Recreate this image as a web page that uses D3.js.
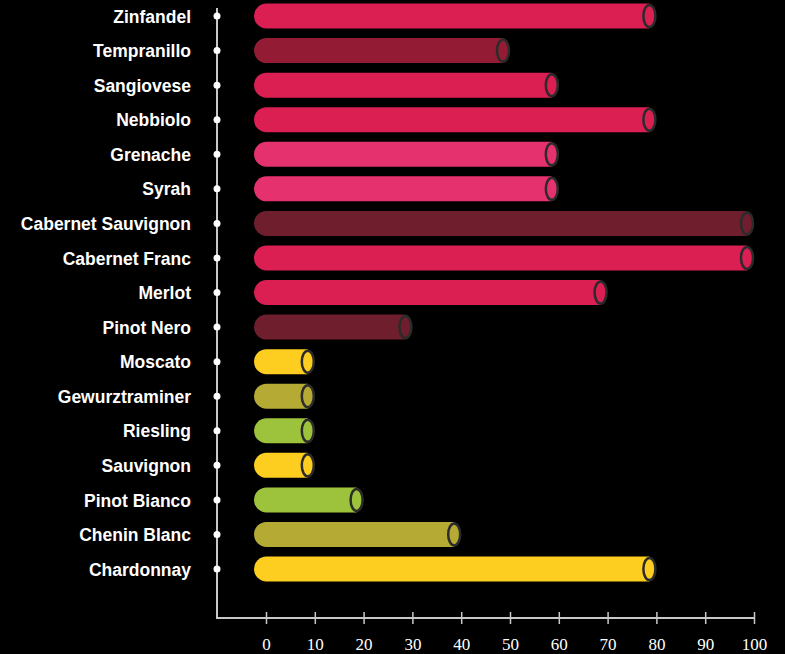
<!DOCTYPE html>
<html>
<head>
<meta charset="utf-8">
<script src="https://cdn.jsdelivr.net/npm/d3@7.9.0/dist/d3.min.js"></script>
<style>
  html, body { margin: 0; padding: 0; background: #000; }
  svg { display: block; }
  .y-axis text { font-family: "Liberation Sans", Arial, sans-serif; font-weight: bold; font-size: 17.5px; fill: #fff; }
  .x-axis text { font-family: "Liberation Serif", "DejaVu Serif", serif; font-size: 17px; fill: #fff; }
</style>
</head>
<body>
<div id="chart"></div>
<script>
// Data
const grapes = ['Zinfandel', 'Tempranillo', 'Sangiovese', 'Nebbiolo', 'Grenache', 'Syrah',
  'Cabernet Sauvignon', 'Cabernet Franc', 'Merlot', 'Pinot Nero', 'Moscato', 'Gewurztraminer',
  'Riesling', 'Sauvignon', 'Pinot Bianco', 'Chenin Blanc', 'Chardonnay'];
const values = [80, 50, 60, 80, 60, 60, 100, 100, 70, 30, 10, 10, 10, 10, 20, 40, 80];
const barColors = ['#dc1f53', '#931c34', '#dc1f53', '#dc1f53', '#e6316f', '#e6316f',
  '#6e1e2d', '#dc1f53', '#dc1f53', '#6e1e2d', '#fdcd20', '#b5aa34',
  '#9dc33c', '#fdcd20', '#9dc33c', '#b5aa34', '#fdcd20'];
const xTicks = [0, 10, 20, 30, 40, 50, 60, 70, 80, 90, 100];

const rows = grapes.map((g, i) => ({ grape: g, value: values[i], color: barColors[i] }));

const width = 785;
const height = 654;
const axisX = 217;
const axisY = 618;

const svg = d3.select('#chart')
  .append('svg')
  .attr('width', width)
  .attr('height', height);

const xScale = d3.scaleLinear()
  .domain([0, 100])
  .range([266, 754]);

const yScale = d3.scalePoint()
  .domain(grapes)
  .range([16, 569]);

const barH = 25;
const leftR = 12;
const capRx = 7;

// Bars (cylinders)
const bars = svg.append('g').attr('class', 'bars')
  .selectAll('g')
  .data(rows)
  .join('g');

bars.append('path')
  .attr('fill', d => d.color)
  .attr('d', d => {
    const x0 = xScale(0) - leftR;
    const x1 = xScale(d.value) - capRx;
    const y0 = yScale(d.grape) - barH / 2;
    const y1 = y0 + barH;
    const r = barH / 2;
    return `M${x1},${y0} L${x0 + r},${y0} A${r},${r} 0 0 0 ${x0 + r},${y1} L${x1},${y1} Z`;
  });

bars.append('ellipse')
  .attr('cx', d => xScale(d.value) - capRx)
  .attr('cy', d => yScale(d.grape))
  .attr('rx', capRx - 1)
  .attr('ry', barH / 2 - 1.5)
  .attr('fill', d => d.color)
  .attr('stroke', '#2b2b2b')
  .attr('stroke-width', 2.5);

// Y axis
const yAxis = svg.append('g')
  .attr('class', 'y-axis')
  .attr('transform', `translate(${axisX},0)`)
  .call(d3.axisLeft(yScale).tickSize(0).tickPadding(26));
yAxis.select('.domain').remove();
yAxis.selectAll('text').attr('dy', '0.35em');

svg.append('line')
  .attr('x1', axisX).attr('x2', axisX)
  .attr('y1', 8).attr('y2', axisY)
  .attr('stroke', '#c8c8c8')
  .attr('stroke-width', 2);

svg.append('g')
  .selectAll('circle')
  .data(grapes)
  .join('circle')
  .attr('cx', axisX)
  .attr('cy', d => yScale(d))
  .attr('r', 3.5)
  .attr('fill', '#fff');

// X axis
const xAxis = svg.append('g')
  .attr('class', 'x-axis')
  .attr('transform', `translate(0,${axisY})`)
  .call(d3.axisBottom(xScale).tickValues(xTicks).tickSize(6).tickSizeOuter(0).tickPadding(14));
xAxis.select('.domain').remove();
xAxis.selectAll('.tick line')
  .attr('y1', -6)
  .attr('y2', 6)
  .attr('stroke', '#c8c8c8')
  .attr('stroke-width', 1.5);

svg.append('line')
  .attr('x1', axisX - 1).attr('x2', xScale(100))
  .attr('y1', axisY).attr('y2', axisY)
  .attr('stroke', '#c8c8c8')
  .attr('stroke-width', 2);
</script>
</body>
</html>
